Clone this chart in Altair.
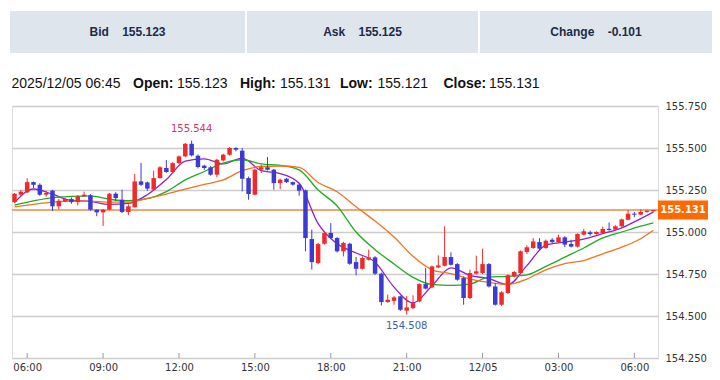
import altair as alt
import pandas as pd

# ---------------- header / info values ----------------
header_labels = ["Bid", "Ask", "Change"]
header_values = ["155.123", "155.125", "-0.101"]
info_stamp = "2025/12/05 06:45"
info_labels = ["Open:", "High:", "Low:", "Close:"]
info_values = ["155.123", "155.131", "155.121", "155.131"]

# ---------------- 15-minute candles ----------------
first_bar = "2025-12-04 05:30"
opens = [155.178, 155.222, 155.236, 155.297, 155.281, 155.222, 155.246, 155.153, 155.182, 155.196,
         155.178, 155.212, 155.218, 155.133, 155.117, 155.133, 155.228, 155.192, 155.119, 155.147,
         155.301, 155.295, 155.252, 155.321, 155.381, 155.357, 155.410, 155.450, 155.525, 155.454,
         155.395, 155.385, 155.341, 155.426, 155.460, 155.500, 155.484, 155.321, 155.222, 155.371,
         155.385, 155.371, 155.291, 155.317, 155.297, 155.282, 155.248, 154.958, 154.815, 154.930,
         154.994, 154.964, 154.885, 154.930, 154.821, 154.781, 154.835, 154.849, 154.752, 154.583,
         154.590, 154.617, 154.532, 154.547, 154.587, 154.690, 154.671, 154.789, 154.799, 154.851,
         154.809, 154.726, 154.607, 154.752, 154.756, 154.809, 154.676, 154.567, 154.637, 154.736,
         154.756, 154.881, 154.905, 154.940, 154.905, 154.954, 154.940, 154.968, 154.929, 154.913,
         154.984, 154.998, 154.988, 154.994, 155.019, 155.014, 155.034, 155.073, 155.109, 155.103,
         155.119, 155.123]
highs = [155.232, 155.250, 155.320, 155.300, 155.290, 155.245, 155.250, 155.196, 155.200, 155.205,
         155.220, 155.240, 155.226, 155.135, 155.136, 155.232, 155.237, 155.252, 155.165, 155.345,
         155.411, 155.300, 155.365, 155.392, 155.428, 155.415, 155.455, 155.530, 155.544, 155.462,
         155.400, 155.392, 155.436, 155.466, 155.505, 155.505, 155.500, 155.330, 155.378, 155.400,
         155.446, 155.375, 155.318, 155.322, 155.300, 155.290, 155.252, 155.014, 154.935, 155.000,
         155.053, 154.970, 154.942, 154.936, 154.851, 154.855, 154.895, 154.856, 154.758, 154.627,
         154.620, 154.622, 154.619, 154.623, 154.695, 154.785, 154.800, 154.861, 155.034, 154.879,
         154.815, 154.735, 154.776, 154.859, 154.901, 154.815, 154.696, 154.648, 154.748, 154.768,
         154.890, 154.921, 154.964, 154.964, 154.955, 154.964, 154.984, 154.975, 154.954, 154.992,
         155.019, 155.008, 155.004, 155.032, 155.057, 155.040, 155.080, 155.131, 155.119, 155.135,
         155.130, 155.131]
lows = [155.172, 155.215, 155.232, 155.262, 155.215, 155.210, 155.125, 155.135, 155.178, 155.168,
        155.158, 155.210, 155.127, 155.094, 155.036, 155.130, 155.185, 155.113, 155.100, 155.145,
        155.275, 155.245, 155.248, 155.318, 155.352, 155.350, 155.405, 155.445, 155.450, 155.378,
        155.370, 155.335, 155.325, 155.420, 155.455, 155.480, 155.242, 155.192, 155.218, 155.351,
        155.366, 155.252, 155.256, 155.292, 155.276, 155.216, 154.885, 154.776, 154.810, 154.925,
        154.958, 154.878, 154.855, 154.805, 154.742, 154.776, 154.830, 154.745, 154.563, 154.578,
        154.567, 154.530, 154.508, 154.540, 154.582, 154.658, 154.665, 154.785, 154.795, 154.800,
        154.710, 154.567, 154.600, 154.748, 154.750, 154.670, 154.562, 154.560, 154.632, 154.730,
        154.750, 154.869, 154.900, 154.893, 154.900, 154.932, 154.935, 154.909, 154.908, 154.908,
        154.980, 154.978, 154.984, 154.990, 155.008, 155.010, 155.030, 155.070, 155.089, 155.100,
        155.115, 155.121]
closes = [155.228, 155.240, 155.297, 155.281, 155.222, 155.232, 155.153, 155.186, 155.196, 155.178,
          155.212, 155.222, 155.133, 155.117, 155.133, 155.228, 155.202, 155.119, 155.153, 155.301,
          155.281, 155.258, 155.321, 155.385, 155.357, 155.410, 155.450, 155.525, 155.456, 155.387,
          155.381, 155.341, 155.430, 155.460, 155.500, 155.490, 155.317, 155.226, 155.371, 155.385,
          155.371, 155.291, 155.311, 155.297, 155.282, 155.246, 154.964, 154.821, 154.928, 154.994,
          154.964, 154.885, 154.935, 154.811, 154.781, 154.845, 154.849, 154.752, 154.583, 154.597,
          154.611, 154.537, 154.551, 154.577, 154.690, 154.663, 154.795, 154.801, 154.851, 154.805,
          154.716, 154.607, 154.756, 154.766, 154.809, 154.676, 154.567, 154.641, 154.742, 154.762,
          154.885, 154.909, 154.944, 154.901, 154.948, 154.940, 154.968, 154.925, 154.913, 154.988,
          155.004, 154.988, 155.000, 155.018, 155.012, 155.034, 155.075, 155.109, 155.103, 155.119,
          155.127, 155.131]

# ---------------- moving-average lines ----------------
ma_idx = list(range(0, 100, 3)) + [101]
ma5 = [155.175, 155.256, 155.225, 155.188, 155.182, 155.165, 155.170, 155.222, 155.312, 155.422,
       155.435, 155.405, 155.440, 155.365, 155.348, 155.290, 155.050, 154.930, 154.875, 154.820,
       154.672, 154.578, 154.680, 154.787, 154.742, 154.722, 154.687, 154.800, 154.922, 154.940,
       154.958, 154.990, 155.025, 155.080, 155.118]
ma10 = [155.160, 155.185, 155.205, 155.212, 155.215, 155.195, 155.186, 155.198, 155.240, 155.310,
        155.360, 155.410, 155.430, 155.405, 155.397, 155.370, 155.250, 155.155, 155.000, 154.895,
        154.810, 154.730, 154.688, 154.682, 154.690, 154.732, 154.736, 154.745, 154.795, 154.850,
        154.905, 154.965, 155.000, 155.035, 155.055]
ma20 = [155.150, 155.165, 155.178, 155.184, 155.184, 155.178, 155.178, 155.200, 155.226, 155.255,
        155.283, 155.310, 155.365, 155.390, 155.393, 155.385, 155.295, 155.240, 155.150, 155.065,
        154.970, 154.855, 154.775, 154.752, 154.720, 154.700, 154.688, 154.720, 154.775, 154.812,
        154.830, 154.870, 154.910, 154.960, 155.010]

y_ticks = [154.25, 154.5, 154.75, 155.0, 155.25, 155.5, 155.75]

# ---------------- tables ----------------
times = pd.date_range(first_bar, periods=len(opens), freq="15min")
t_str = [t.strftime("%Y-%m-%dT%H:%M:%SZ") for t in times]
candles = pd.DataFrame({"t": t_str, "open": opens, "high": highs, "low": lows, "close": closes})
ma_df = pd.DataFrame({"t": [t_str[i] for i in ma_idx], "ma5": ma5, "ma10": ma10, "ma20": ma20})
ma_long = ma_df.melt("t", var_name="ma", value_name="v")
last_df = pd.DataFrame({"last": [closes[-1]], "txt": [f"{closes[-1]:.3f}"]})
hi_i = highs.index(max(highs))
lo_i = lows.index(min(lows))
hi_df = pd.DataFrame({"t": [t_str[hi_i]], "p": [highs[hi_i]], "txt": [f"{highs[hi_i]:.3f}"]})
lo_df = pd.DataFrame({"t": [t_str[lo_i]], "p": [lows[lo_i]], "txt": [f"{lows[lo_i]:.3f}"]})
tick_times = pd.date_range("2025-12-04 06:00", "2025-12-05 06:00", freq="3h")
tick_ms = [int(t.value // 10**6) for t in tick_times]
tick_df = pd.DataFrame({"t": [t.strftime("%Y-%m-%dT%H:%M:%SZ") for t in tick_times]})

# ---------------- styling ----------------
W, H = 646, 252
UP, DOWN = "#ee2a2a", "#3b3bd4"
AX_FONT = "DejaVu Sans"
TXT_FONT = "Liberation Sans"

x_dom = [alt.DateTime(year=2025, month=12, date=4, hours=5, minutes=24, utc=True),
         alt.DateTime(year=2025, month=12, date=5, hours=6, minutes=56, utc=True)]


def X():
    return alt.X("t:T", title=None,
                 scale=alt.Scale(type="utc", domain=x_dom, nice=False, padding=0),
                 axis=alt.Axis(values=tick_ms, grid=False, ticks=False, domain=False,
                               labelPadding=4, labelFont=AX_FONT, labelFontSize=10,
                               labelColor="#333333", labelFlush=False,
                               labelExpr="utchours(datum.value) == 0 ? utcFormat(datum.value, '%m/%d') : utcFormat(datum.value, '%H:%M')"))


def Y(field):
    return alt.Y(f"{field}:Q", title=None,
                 scale=alt.Scale(domain=[154.25, 155.75], nice=False, zero=False),
                 axis=alt.Axis(orient="right", values=y_ticks, format=".3f", ticks=False,
                               domain=False, labelPadding=7, labelFont=AX_FONT,
                               labelFontSize=10, labelColor="#333333",
                               gridColor="#cccccc", gridWidth=1.5))


color_cond = alt.condition("datum.close >= datum.open", alt.value(UP), alt.value(DOWN))

layers = []

# x tick marks (inside plot)
layers.append(alt.Chart(tick_df).mark_rule(color="#9a9a9a", strokeWidth=1).encode(
    x=X(), y=alt.value(H - 5), y2=alt.value(H)))

# last price line
layers.append(alt.Chart(last_df).mark_rule(color="#f0883e", strokeWidth=1.5).encode(
    y=Y("last")))

# moving averages
layers.append(alt.Chart(ma_long).mark_line(strokeWidth=1.3, interpolate="monotone").encode(
    x=X(), y=Y("v"),
    color=alt.Color("ma:N", legend=None,
                    scale=alt.Scale(domain=["ma5", "ma10", "ma20"],
                                    range=["#9020c8", "#22aa22", "#f07420"])),
    detail="ma:N"))

# candles
base = alt.Chart(candles)
layers.append(base.mark_rule(strokeWidth=1).encode(x=X(), y=Y("low"), y2="high:Q", color=color_cond))
layers.append(base.mark_bar(size=4.5).encode(x=X(), y=Y("open"), y2="close:Q", color=color_cond))

# high / low annotations
layers.append(alt.Chart(hi_df).mark_text(dy=-12, font=AX_FONT, fontSize=10, color="#d9336a").encode(
    x=X(), y=Y("p"), text="txt:N"))
layers.append(alt.Chart(lo_df).mark_text(dy=11, font=AX_FONT, fontSize=10, color="#3b62a8").encode(
    x=X(), y=Y("p"), text="txt:N"))

# last price tag on the axis
layers.append(alt.Chart(last_df).mark_rule(strokeWidth=19, strokeCap="butt", color="#ff6a00").encode(
    x=alt.value(W), x2=alt.value(W + 50), y=Y("last")))
layers.append(alt.Chart(last_df).mark_text(font=AX_FONT, fontSize=10, fontWeight="bold",
                                           color="white").encode(
    x=alt.value(W + 25), y=Y("last"), text="txt:N"))

# header boxes
box_x = [(-2, 233), (235, 466), (468, 700)]
for (x0, x1), lab, val in zip(box_x, header_labels, header_values):
    layers.append(alt.Chart(pd.DataFrame({"s": [lab + "\u00a0" * 4 + val]})).mark_rect(
        color="#dfe5ed").encode(x=alt.value(x0), x2=alt.value(x1), y=alt.value(-95), y2=alt.value(-53)))
    layers.append(alt.Chart(pd.DataFrame({"s": [lab + "\u00a0" * 4 + val]})).mark_text(
        font=TXT_FONT, fontSize=12, fontWeight="bold", color="#1c2b4b").encode(
        x=alt.value((x0 + x1) / 2), y=alt.value(-74), text="s:N"))

# info line
info_parts = [(info_stamp, -0.5, "normal")]
lab_x = [121, 228, 328, 431.5]
val_x = [165, 268, 365.5, 477]
for lab, val, lx, vx in zip(info_labels, info_values, lab_x, val_x):
    info_parts.append((lab, lx, "bold"))
    info_parts.append((val, vx, "normal"))
for s, xx, fw in info_parts:
    layers.append(alt.Chart(pd.DataFrame({"s": [s]})).mark_text(
        align="left", font=TXT_FONT, fontSize=14, fontWeight=fw, color="#111111").encode(
        x=alt.value(xx), y=alt.value(-22), text="s:N"))

chart = alt.layer(*layers).properties(
    width=W, height=H,
    padding={"left": 4, "top": 98, "right": 54, "bottom": 16},
    autosize=alt.AutoSizeParams(type="none"),
).configure_view(stroke="#b5b5b5", strokeWidth=1.5, fill="#f6f6f6").configure(background="white")

chart.save("out.html", embed_options={"renderer": "svg", "actions": False})
